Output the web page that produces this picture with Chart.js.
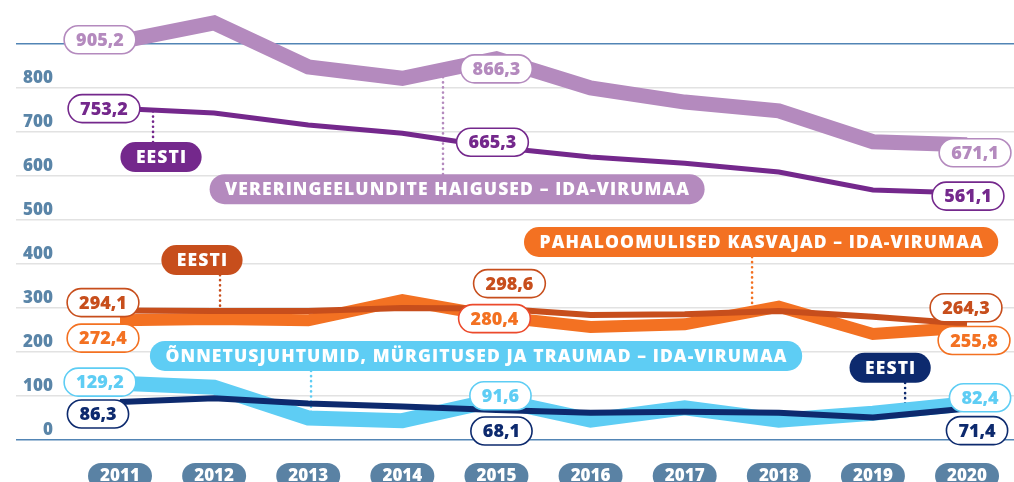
<!DOCTYPE html>
<html>
<head>
<meta charset="utf-8">
<script src="https://cdn.jsdelivr.net/npm/chart.js@4.4.1/dist/chart.umd.min.js"></script>
<style>
html,body{margin:0;padding:0;background:#fff;}
</style>
</head>
<body>
<canvas id="chart" width="1014" height="482"></canvas>
<script>
const years = [2011, 2012, 2013, 2014, 2015, 2016, 2017, 2018, 2019, 2020];
const yTicks = [0, 100, 200, 300, 400, 500, 600, 700, 800];

// vereringeelundite haigused
const vereIda = [905.2, 948, 848, 822, 866.3, 800, 768, 748, 678, 671.1];
const vereEesti = [753.2, 743, 716, 697, 665.3, 643, 629, 609, 568, 561.1];
// pahaloomulised kasvajad
const kasvIda = [272.4, 275, 272, 318, 280.4, 257, 263, 303, 241, 255.8];
const kasvEesti = [294.1, 293, 293, 300, 298.6, 284, 286, 293, 280, 264.3];
// õnnetusjuhtumid, mürgitused ja traumad
const onnIda = [129.2, 120, 50, 44, 91.6, 45, 73, 45, 61, 82.4];
const onnEesti = [86.3, 95, 83, 76, 68.1, 62, 64, 62, 51, 71.4];

const FONT = '"Open Sans", "DejaVu Sans", sans-serif';
const C = {
  lilac: '#B48ABE', purple: '#74288C',
  orange: '#F37122', rust: '#C74E1C',
  sky: '#5ECDF4', navy: '#0D2A6E',
  axis: '#5A85A8', blue: '#5285B5', grid: '#E2E2E2'
};

const pts = arr => arr.map((v, i) => ({x: years[i], y: v}));

// dataset index order: dark (Eesti) lines first so they are drawn on top
const datasets = [
  {key: 'vereEesti', data: pts(vereEesti), borderColor: C.purple, borderWidth: 5},
  {key: 'kasvEesti', data: pts(kasvEesti), borderColor: C.rust, borderWidth: 6},
  {key: 'onnEesti', data: pts(onnEesti), borderColor: C.navy, borderWidth: 6},
  {key: 'vereIda', data: pts(vereIda), borderColor: C.lilac, borderWidth: 15},
  {key: 'kasvIda', data: pts(kasvIda), borderColor: C.orange, borderWidth: 12},
  {key: 'onnIda', data: pts(onnIda), borderColor: C.sky, borderWidth: 15}
];
const dsIndex = k => datasets.findIndex(d => d.key === k);

// value labels: dataset, point index, offset of pill centre from point
const valueLabels = [
  {ds: 'vereIda', i: 0, dx: -20, dy: -2, color: C.lilac},
  {ds: 'vereIda', i: 4, dx: 0, dy: 10, color: C.lilac},
  {ds: 'vereIda', i: 9, dx: 8, dy: 8, color: C.lilac},
  {ds: 'vereEesti', i: 0, dx: -16, dy: 0, color: C.purple},
  {ds: 'vereEesti', i: 4, dx: -4, dy: -5, color: C.purple},
  {ds: 'vereEesti', i: 9, dx: 1, dy: 3, color: C.purple},
  {ds: 'kasvIda', i: 0, dx: -17, dy: 18, color: C.orange},
  {ds: 'kasvIda', i: 4, dx: -2, dy: 2, color: C.orange, border: '#EC4A2C'},
  {ds: 'kasvIda', i: 9, dx: 7, dy: 13, color: C.orange},
  {ds: 'kasvEesti', i: 0, dx: -17, dy: -8, color: C.rust},
  {ds: 'kasvEesti', i: 4, dx: 13, dy: -25, color: C.rust},
  {ds: 'kasvEesti', i: 9, dx: -1, dy: -16, color: C.rust},
  {ds: 'onnIda', i: 0, dx: -20, dy: -1, color: C.sky},
  {ds: 'onnIda', i: 4, dx: 4, dy: -4, color: C.sky},
  {ds: 'onnIda', i: 9, dx: 13, dy: -6, color: C.sky},
  {ds: 'onnEesti', i: 0, dx: -22, dy: 12, color: C.navy},
  {ds: 'onnEesti', i: 4, dx: 5, dy: 21, color: C.navy},
  {ds: 'onnEesti', i: 9, dx: 10, dy: 22, color: C.navy}
];

// series name tags, placed in data units, with a dotted leader to the line
const tags = [
  {text: 'EESTI', x: 2011.436, y: 643, lineX: 2011.351, ds: 'vereEesti', color: C.purple},
  {text: 'VERERINGEELUNDITE HAIGUSED – IDA-VIRUMAA', x: 2014.582, y: 570, lineX: 2014.432, ds: 'vereIda', color: C.lilac},
  {text: 'PAHALOOMULISED KASVAJAD – IDA-VIRUMAA', x: 2017.812, y: 450, lineX: 2017.716, ds: 'kasvIda', color: C.orange},
  {text: 'EESTI', x: 2011.871, y: 409, lineX: 2012.063, ds: 'kasvEesti', color: C.rust},
  {text: 'ÕNNETUSJUHTUMID, MÜRGITUSED JA TRAUMAD – IDA-VIRUMAA', x: 2014.783, y: 191, lineX: 2013.03, ds: 'onnIda', color: C.sky},
  {text: 'EESTI', x: 2019.183, y: 164, lineX: 2019.342, ds: 'onnEesti', color: C.navy}
];

function pill(ctx, cx, cy, w, h, fill, stroke) {
  ctx.beginPath();
  ctx.roundRect(cx - w / 2, cy - h / 2, w, h, h / 2);
  if (fill) { ctx.fillStyle = fill; ctx.fill(); }
  if (stroke) { ctx.strokeStyle = stroke; ctx.lineWidth = 1.6; ctx.stroke(); }
}

function lineValueAt(key, x) {
  const arr = datasets[dsIndex(key)].data;
  const k = Math.min(Math.floor(x - years[0]), arr.length - 2);
  const t = x - years[k];
  return arr[k].y + (arr[k + 1].y - arr[k].y) * t;
}

const fmt = v => v.toFixed(1).replace('.', ',');

const decor = {
  id: 'decor',
  beforeDatasetsDraw(chart) {
    const ctx = chart.ctx, xs = chart.scales.x, ys = chart.scales.y;
    ctx.save();
    ctx.setLineDash([0.1, 5]);
    ctx.lineCap = 'round';
    ctx.lineWidth = 2.6;
    tags.forEach(t => {
      const px = xs.getPixelForValue(t.lineX);
      const cy = ys.getPixelForValue(t.y);
      const ly = ys.getPixelForValue(lineValueAt(t.ds, t.lineX));
      const edge = ly < cy ? cy - 15 : cy + 15;
      ctx.strokeStyle = t.color;
      ctx.beginPath();
      ctx.moveTo(px, edge);
      ctx.lineTo(px, ly);
      ctx.stroke();
    });
    ctx.restore();
  },
  afterDatasetsDraw(chart) {
    const ctx = chart.ctx, xs = chart.scales.x, ys = chart.scales.y;
    ctx.save();
    ctx.textAlign = 'center';
    ctx.textBaseline = 'middle';

    // y tick labels sit above their grid line
    ctx.font = '800 17px ' + FONT;
    ctx.fillStyle = C.axis;
    ctx.textAlign = 'right';
    yTicks.forEach(v => ctx.fillText(String(v), 53, ys.getPixelForValue(v) - 10));
    ctx.textAlign = 'center';

    // tags
    ctx.font = '800 17.5px ' + FONT;
    ctx.letterSpacing = '1.1px';
    tags.forEach(t => {
      const cx = xs.getPixelForValue(t.x), cy = ys.getPixelForValue(t.y);
      const tw = ctx.measureText(t.text).width;
      pill(ctx, cx, cy, tw + 30, 30, t.color);
      ctx.fillStyle = '#fff';
      ctx.fillText(t.text, cx + 0.5, cy + 1);
    });
    ctx.letterSpacing = '0px';

    // value labels
    ctx.font = '800 18px ' + FONT;
    valueLabels.forEach(l => {
      const p = datasets[dsIndex(l.ds)].data[l.i];
      const cx = xs.getPixelForValue(p.x) + l.dx;
      const cy = ys.getPixelForValue(p.y) + l.dy;
      const s = fmt(p.y);
      const w = ctx.measureText(s).width + 24;
      pill(ctx, cx, cy, w, 28, '#fff', l.border || l.color);
      ctx.fillStyle = l.color;
      ctx.fillText(s, cx, cy + 1);
    });

    // year pills along the bottom
    ctx.font = '800 17px ' + FONT;
    years.forEach(yr => {
      const cx = xs.getPixelForValue(yr);
      pill(ctx, cx, 476, 64, 26, '#5A82A4');
      ctx.fillStyle = '#fff';
      ctx.fillText(String(yr), cx, 476);
    });
    ctx.restore();
  }
};

new Chart(document.getElementById('chart'), {
  type: 'line',
  data: {
    datasets: datasets.map(d => ({
      label: d.key,
      data: d.data,
      borderColor: d.borderColor,
      borderWidth: d.borderWidth,
      pointRadius: 0,
      tension: 0,
      fill: false,
      clip: false,
      borderJoinStyle: 'miter',
      borderCapStyle: 'butt'
    }))
  },
  options: {
    responsive: false,
    animation: false,
    layout: {padding: {left: 16, right: 0, top: 44, bottom: 42}},
    plugins: {legend: {display: false}, tooltip: {enabled: false}},
    scales: {
      x: {type: 'linear', min: 2009.895, max: 2020.499, display: false},
      y: {
        min: 0, max: 900,
        ticks: {display: false, stepSize: 100},
        border: {display: false},
        grid: {
          drawTicks: false,
          lineWidth: 1.4,
          color: c => (c.tick.value === 0 || c.tick.value === 900) ? C.blue : C.grid
        }
      }
    }
  },
  plugins: [decor]
});
</script>
</body>
</html>
